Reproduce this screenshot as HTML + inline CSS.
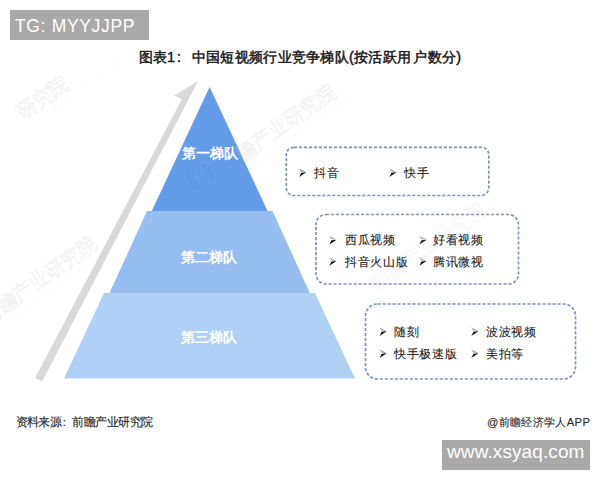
<!DOCTYPE html>
<html><head><meta charset="utf-8">
<style>
html,body{margin:0;padding:0;background:#fff;}
body{width:600px;height:480px;position:relative;overflow:hidden;font-family:"Liberation Sans",sans-serif;}
.a{position:absolute;white-space:nowrap;}
.gbox{background:#a9a9a9;color:#fff;}
#tg{left:10px;top:10px;width:138.5px;height:30px;font-size:17.5px;letter-spacing:0.66px;line-height:30px;}
#tg span{position:absolute;left:5px;top:1px;}
#www{left:442px;top:440px;width:148px;height:29.5px;font-size:19px;letter-spacing:0.1px;line-height:29px;}
#www span{position:absolute;left:5px;top:-3px;}
#title{left:138.5px;top:48px;font-size:14.4px;letter-spacing:0.3px;font-weight:400;-webkit-text-stroke:0.5px #1b1b1b;color:#1b1b1b;line-height:18px;}
.tier{color:#fff;font-weight:bold;font-size:14px;line-height:16px;}
.it{font-size:12.4px;letter-spacing:0.7px;color:#222;line-height:14px;-webkit-text-stroke:0.1px #222;}
.foot{font-size:11.5px;letter-spacing:-0.55px;color:#2b2b2b;line-height:14px;-webkit-text-stroke:0.15px #2b2b2b;}
svg{position:absolute;left:0;top:0;}
.wm{position:absolute;white-space:nowrap;font-size:21px;line-height:22px;color:rgba(255,255,255,0.2);-webkit-text-stroke:0.9px rgba(120,120,120,0.11);transform-origin:0 100%;transform:rotate(-35deg) scaleX(0.92);letter-spacing:0px;font-weight:normal;}
.wm i{position:absolute;left:24px;top:23px;font-style:normal;font-size:5px;line-height:6px;letter-spacing:2px;-webkit-text-stroke:0;color:rgba(120,120,120,0.09);font-weight:normal;}

</style></head><body>
<svg width="600" height="480" viewBox="0 0 600 480">
  <defs><g id="bul"><polygon points="0,0 7.5,3.7 2.6,3.4" fill="#a8a8a8"/><polygon points="2.4,4.4 7.6,3.9 0.3,8.6 1.5,6.4" fill="#111"/></g></defs>
  <!-- arrow -->
  <polygon points="198.2,80.8 174.5,95.6 182,98.9 35.2,377.7 42.2,381.4" fill="#d9d9d9"/>
  <!-- tiers -->
  <polygon points="209.6,87 267.5,211 151.8,211" fill="#639ce8"/>
  <polygon points="147,211 272.5,211 309.8,293 109.5,293" fill="#97bef1"/>
  <polygon points="104,293 315,293 355,378.5 64,378.5" fill="#b1d0f6"/>
  <g fill="#3f78c8" opacity="0.12">
    <path d="M186,168 Q182,182 196,189 Q203,191 204,188 Q192,182 192,170 Z"/>
    <path d="M203,163 Q214,166 215,178 Q213,181 210,180 Q207,170 201,166 Z"/>
  </g>
  <!-- dashed boxes -->
  <g fill="none" stroke="#7d97bb" stroke-width="1.7" stroke-dasharray="3.2 1.8">
    <rect x="286.3" y="147.3" width="202.5" height="48.2" rx="7.5"/>
    <rect x="316" y="214.5" width="202.5" height="69.5" rx="10"/>
    <rect x="365.5" y="304" width="210" height="75" rx="12"/>
  </g>
  <use href="#bul" x="298.8" y="168.3"/>
  <use href="#bul" x="389" y="168.3"/>
  <use href="#bul" x="329" y="235.8"/>
  <use href="#bul" x="419" y="235.8"/>
  <use href="#bul" x="329" y="257.2"/>
  <use href="#bul" x="419" y="257.2"/>
  <use href="#bul" x="379.2" y="327.3"/>
  <use href="#bul" x="471" y="327.3"/>
  <use href="#bul" x="379.2" y="349.3"/>
  <use href="#bul" x="471" y="349.3"/>
</svg>
<div class="wm" style="left:25px;top:101px;">研究院<i>QIANZHAN INDUSTRY RESEARCH</i></div>
<div class="wm" style="left:229px;top:154px;"><span style="visibility:hidden">前</span>瞻产业研究院<i>QIANZHAN INDUSTRY RESEARCH</i></div>
<div class="wm" style="left:-10px;top:306px;">前瞻产业研究院<i>QIANZHAN INDUSTRY RESEARCH</i></div>
<div class="wm" style="left:379px;top:272px;opacity:0.55;">前瞻产业研究院<i>QIANZHAN INDUSTRY RESEARCH</i></div>
<div class="a gbox" id="tg"><span>TG: MYYJJPP</span></div>
<div class="a" id="title">图表1<span style="margin-left:1.5px;margin-right:10.5px">:</span>中国短视频行业竞争梯队(按活跃用<span style="margin-left:2px">户</span>数分)</div>
<div class="a tier" style="left:182px;top:145px;">第一梯队</div>
<div class="a tier" style="left:181px;top:249px;">第二梯队</div>
<div class="a tier" style="left:181px;top:329px;">第三梯队</div>

<div class="a it" style="left:314px;top:166px;">抖音</div>
<div class="a it" style="left:404px;top:166px;">快手</div>
<div class="a it" style="left:345px;top:233px;">西瓜视频</div>
<div class="a it" style="left:433px;top:233px;">好看视频</div>
<div class="a it" style="left:345px;top:255px;">抖音火山版</div>
<div class="a it" style="left:433px;top:255px;">腾讯微视</div>
<div class="a it" style="left:394px;top:325px;">随刻</div>
<div class="a it" style="left:486px;top:325px;">波波视频</div>
<div class="a it" style="left:394px;top:347px;">快手极速版</div>
<div class="a it" style="left:486px;top:347px;">美拍等</div>

<div class="a foot" style="left:15.5px;top:415px;">资料来源<span style="margin-left:1.5px;margin-right:7px">:</span>前瞻产业研究院</div>
<div class="a foot" style="left:487px;top:415px;font-size:11.2px;letter-spacing:0.35px;">@前瞻经济学人APP</div>
<div class="a gbox" id="www"><span>www.xsyaq.com</span></div>
</body></html>
